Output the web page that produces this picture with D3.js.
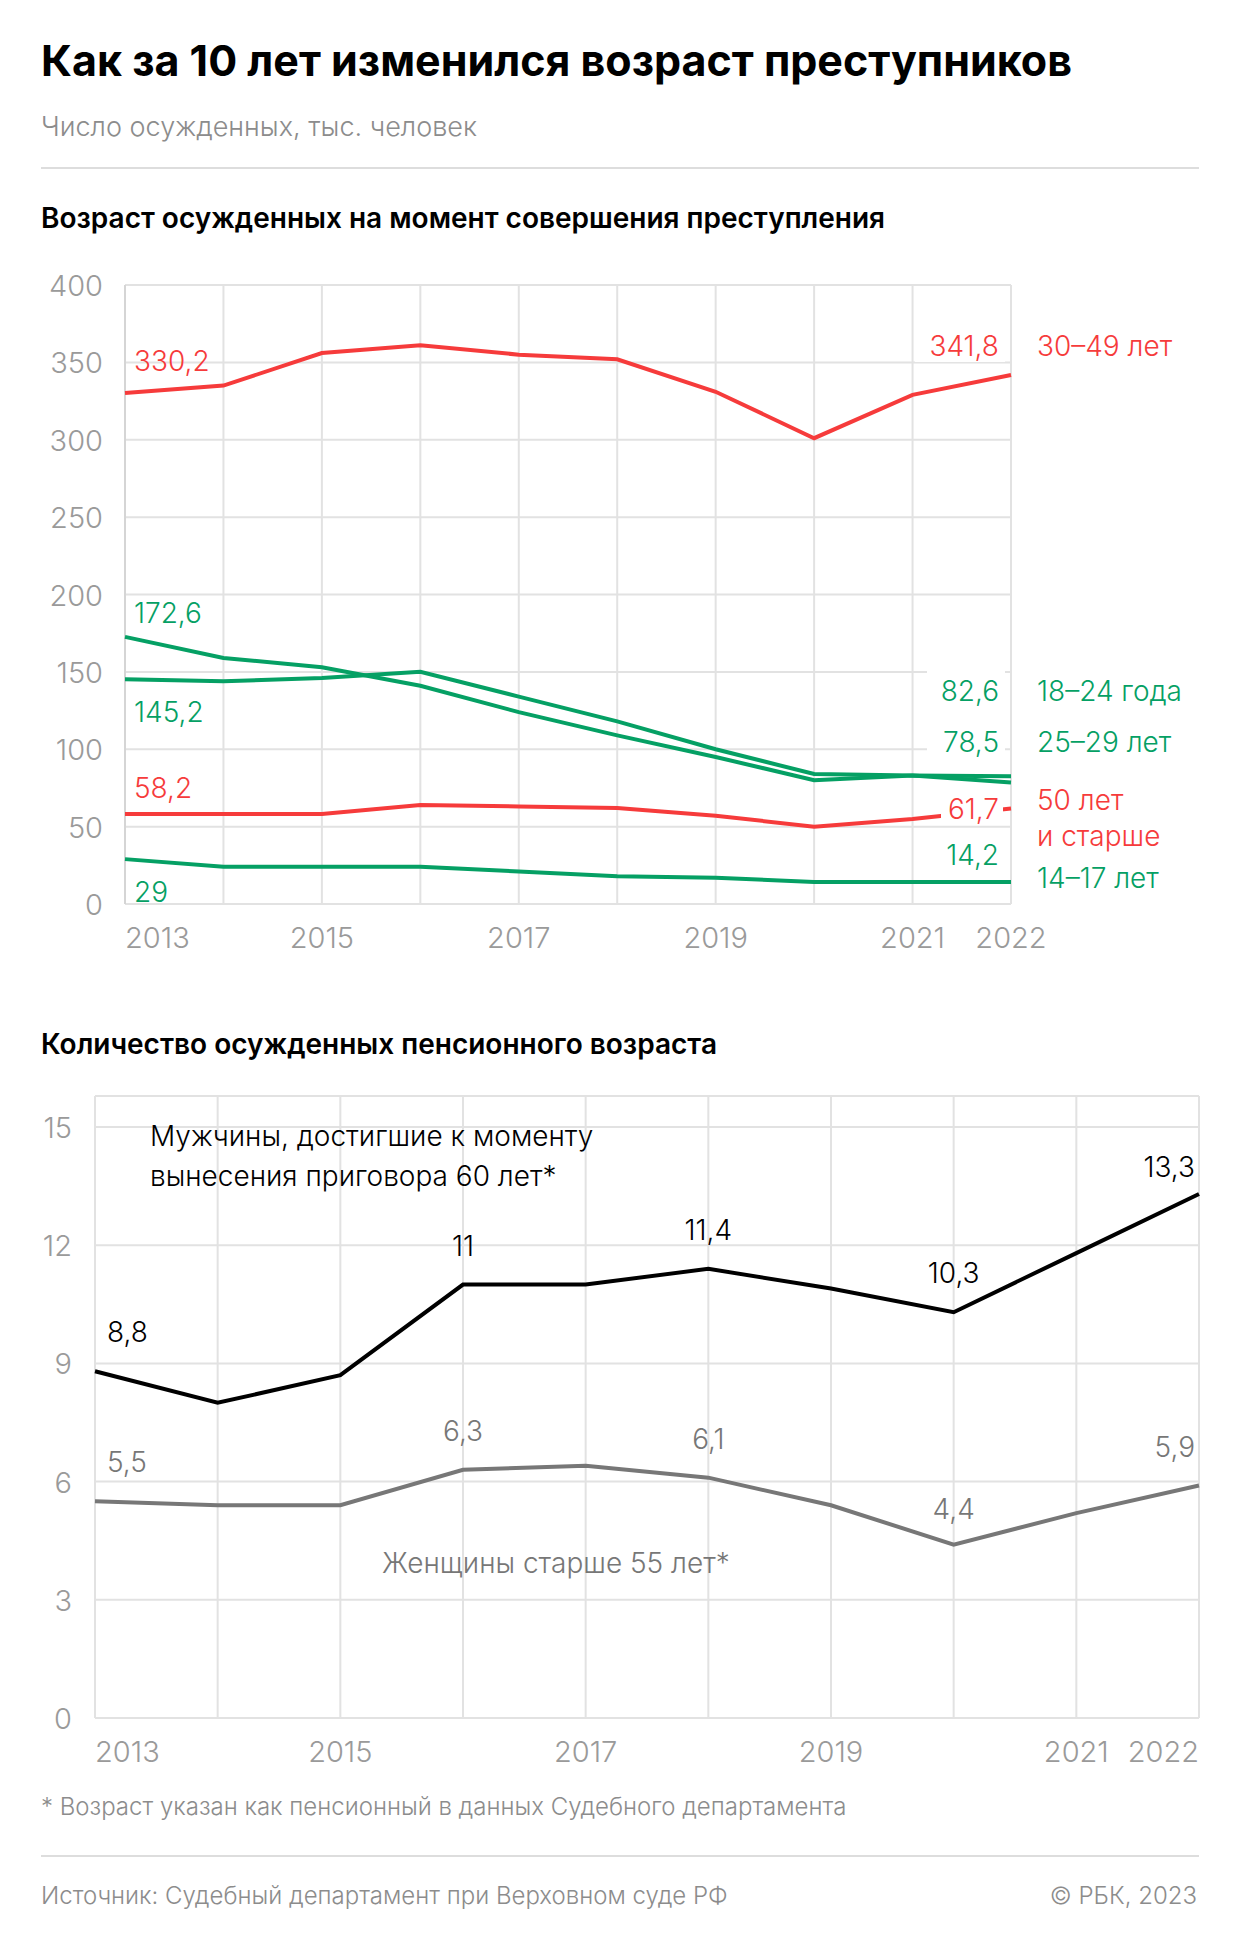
<!DOCTYPE html>
<html><head><meta charset="utf-8">
<script src="https://cdn.jsdelivr.net/npm/d3@7"></script>
<style>body{margin:0;background:#fff}text{font-family:Inter,Roboto,"Noto Sans",sans-serif}</style>
</head><body><svg id="c"></svg>
<script>
const years = [2013,2014,2015,2016,2017,2018,2019,2020,2021,2022];
const yearLabels = ["2013","2015","2017","2019","2021","2022"];
const age30_49 = [330.2,335,356,361,355,352,331,301,329,341.8];
const age18_24 = [172.6,159,153,141,124,109,95,80,83,82.6];
const age25_29 = [145.2,144,146,150,134,118,100,84,83,78.5];
const age50plus = [58.2,58.2,58.2,64,63,62,57,50,55,61.7];
const age14_17 = [29,24,24,24,21,18,17,14.2,14.2,14.2];
const men60 = [8.8,8.0,8.7,11,11,11.4,10.9,10.3,11.8,13.3];
const women55 = [5.5,5.4,5.4,6.3,6.4,6.1,5.4,4.4,5.2,5.9];
const ticks1 = [0,50,100,150,200,250,300,350,400];
const ticks2 = [0,3,6,9,12,15];

const W=1240,H=1944, RED="#f63b3b", GREEN="#05a064", GRID="#e2e2e2", AX="#9a9a9a";
const svg=d3.select("#c").attr("width",W).attr("height",H);
const fmt=v=>String(v).replace(".",",");

svg.append("text").attr("x",41).attr("y",76).attr("font-size",43).attr("font-weight",700).attr("fill","#000").text("Как за 10 лет изменился возраст преступников");
svg.append("text").attr("x",41).attr("y",136).attr("font-size",27).attr("font-weight",300).attr("fill","#8c8c8c").text("Число осужденных, тыс. человек");
svg.append("line").attr("x1",41).attr("x2",1199).attr("y1",168).attr("y2",168).attr("stroke","#ddd").attr("stroke-width",2);
svg.append("text").attr("x",41).attr("y",228).attr("font-size",28).attr("font-weight",600).text("Возраст осужденных на момент совершения преступления");
svg.append("text").attr("x",41).attr("y",1054).attr("font-size",28).attr("font-weight",600).text("Количество осужденных пенсионного возраста");

// chart 1
const x1=d3.scalePoint().domain(years).range([125,1011]);
const y1=d3.scaleLinear().domain([0,400]).range([904,285]);
const g1=svg.append("g");
g1.selectAll(".hg").data(ticks1).join("line").attr("x1",125).attr("x2",1011).attr("y1",d=>y1(d)).attr("y2",d=>y1(d)).attr("stroke",GRID).attr("stroke-width",2);
g1.selectAll(".vg").data(years).join("line").attr("x1",d=>x1(d)).attr("x2",d=>x1(d)).attr("y1",285).attr("y2",904).attr("stroke",GRID).attr("stroke-width",2);
g1.append("line").attr("x1",125).attr("x2",125).attr("y1",285).attr("y2",904).attr("stroke","#d5d5d5").attr("stroke-width",2);
g1.selectAll(".yt").data(ticks1).join("text").attr("x",103).attr("y",d=>y1(d)+11).attr("text-anchor","end").attr("font-size",29).attr("font-weight",300).attr("fill",AX).text(d=>d);
g1.selectAll(".xt").data(yearLabels).join("text").attr("x",d=>x1(+d)).attr("y",948).attr("text-anchor",d=>d==="2013"?"start":"middle").attr("font-size",29).attr("font-weight",300).attr("fill",AX).text(d=>d);
const line1=d3.line().x((d,i)=>x1(years[i])).y(d=>y1(d));
[[age30_49,RED],[age18_24,GREEN],[age25_29,GREEN],[age50plus,RED],[age14_17,GREEN]].forEach(([s,c])=>
  g1.append("path").attr("d",line1(s)).attr("fill","none").attr("stroke",c).attr("stroke-width",4));
const lab=(g,t,x,y,c,a)=>g.append("text").attr("x",x).attr("y",y).attr("font-size",28).attr("font-weight",300).attr("fill",c).attr("text-anchor",a||"start").text(t);
const L=x1(2013)+9, R=x1(2022)-12, S=1037;
lab(g1,fmt(age30_49[0]),L,y1(age30_49[0])-22,RED);
lab(g1,fmt(age18_24[0]),L,y1(age18_24[0])-14,GREEN);
lab(g1,fmt(age25_29[0]),L,y1(age25_29[0])+43,GREEN);
lab(g1,fmt(age50plus[0]),L,y1(age50plus[0])-16,RED);
lab(g1,fmt(age14_17[0]),L,y1(age14_17[0])+43,GREEN);
const bg=(y,w)=>g1.append("rect").attr("x",R-w).attr("y",y-30).attr("width",w+6).attr("height",36).attr("fill","#fff");
bg(y1(age30_49[9])-19,84); lab(g1,fmt(age30_49[9]),R,y1(age30_49[9])-19,RED,"end");
bg(701,72); lab(g1,fmt(age18_24[9]),R,701,GREEN,"end");
bg(752,72); lab(g1,fmt(age25_29[9]),R,752,GREEN,"end");
g1.append("rect").attr("x",R-58).attr("y",y1(age50plus[9])-18).attr("width",62).attr("height",32).attr("fill","#fff");
lab(g1,fmt(age50plus[9]),R,y1(age50plus[9])+10,RED,"end");
lab(g1,fmt(age14_17[9]),R,865,GREEN,"end");
lab(g1,"30–49 лет",S,y1(age30_49[9])-19,RED);
lab(g1,"18–24 года",S,701,GREEN);
lab(g1,"25–29 лет",S,752,GREEN);
lab(g1,"50 лет",S,810,RED);
lab(g1,"и старше",S,846,RED);
lab(g1,"14–17 лет",S,888,GREEN);

// chart 2
const x2=d3.scalePoint().domain(years).range([95,1199]);
const y2=d3.scaleLinear().domain([0,15]).range([1718,1127]);
const g2=svg.append("g");
g2.selectAll(".hg").data(ticks2).join("line").attr("x1",95).attr("x2",1199).attr("y1",d=>y2(d)).attr("y2",d=>y2(d)).attr("stroke",GRID).attr("stroke-width",2);
g2.append("line").attr("x1",95).attr("x2",1199).attr("y1",1096).attr("y2",1096).attr("stroke",GRID).attr("stroke-width",2);
g2.selectAll(".vg").data(years).join("line").attr("x1",d=>x2(d)).attr("x2",d=>x2(d)).attr("y1",1096).attr("y2",1718).attr("stroke",GRID).attr("stroke-width",2);
g2.selectAll(".yt").data(ticks2).join("text").attr("x",72).attr("y",d=>y2(d)+11).attr("text-anchor","end").attr("font-size",29).attr("font-weight",300).attr("fill",AX).text(d=>d);
g2.selectAll(".xt").data(yearLabels).join("text").attr("x",d=>x2(+d)).attr("y",1762).attr("text-anchor",d=>d==="2013"?"start":d==="2022"?"end":"middle").attr("font-size",29).attr("font-weight",300).attr("fill",AX).text(d=>d);
const line2=d3.line().x((d,i)=>x2(years[i])).y(d=>y2(d));
g2.append("path").attr("d",line2(men60)).attr("fill","none").attr("stroke","#000").attr("stroke-width",4);
g2.append("path").attr("d",line2(women55)).attr("fill","none").attr("stroke","#777").attr("stroke-width",4);
const ml=[[0,"start",12],[3,"middle",0],[5,"middle",0],[7,"middle",0],[9,"end",0]];
ml.forEach(([i,a,dx])=>g2.append("text").attr("x",x2(years[i])+dx+(i===9?-4:0)).attr("y",y2(men60[i])-(i===9?17:29)).attr("font-size",28).attr("font-weight",300).attr("text-anchor",a).text(fmt(men60[i])));
ml.forEach(([i,a,dx])=>g2.append("text").attr("x",x2(years[i])+dx+(i===9?-4:0)).attr("y",i===7?y2(women55[i])-26:y2(women55[i])-29).attr("font-size",28).attr("font-weight",300).attr("fill","#777").attr("text-anchor",a).text(fmt(women55[i])));
g2.append("text").attr("x",150).attr("y",1146).attr("font-size",28).attr("font-weight",300).text("Мужчины, достигшие к моменту");
g2.append("text").attr("x",150).attr("y",1186).attr("font-size",28).attr("font-weight",300).text("вынесения приговора 60 лет*");
g2.append("text").attr("x",382).attr("y",1573).attr("font-size",28).attr("font-weight",300).attr("fill","#777").text("Женщины старше 55 лет*");

svg.append("text").attr("x",41).attr("y",1815).attr("font-size",24).attr("font-weight",300).attr("fill","#8c8c8c").text("* Возраст указан как пенсионный в данных Судебного департамента");
svg.append("line").attr("x1",41).attr("x2",1199).attr("y1",1856).attr("y2",1856).attr("stroke","#ddd").attr("stroke-width",2);
svg.append("text").attr("x",41).attr("y",1904).attr("font-size",24).attr("font-weight",300).attr("fill","#8c8c8c").text("Источник: Судебный департамент при Верховном суде РФ");
svg.append("text").attr("x",1197).attr("y",1904).attr("font-size",24).attr("font-weight",300).attr("fill","#8c8c8c").attr("text-anchor","end").text("© РБК, 2023");
</script></body></html>
